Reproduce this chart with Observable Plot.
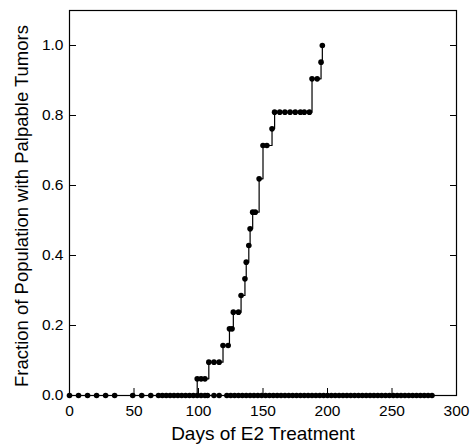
<!DOCTYPE html>
<html><head><meta charset="utf-8">
<script src="https://cdn.jsdelivr.net/npm/d3@7"></script>
<script src="https://cdn.jsdelivr.net/npm/@observablehq/plot@0.6"></script>
<style>body{margin:0;background:#fff}</style>
</head><body><div id="chart"></div>
<script>
const cohortSize = 21;
const tumorDays   = [99,102,105,108,112,116,119,123,124,126,127,131,133,136,137,139,140,142,144,147,150,153,157,159,163,167,171,175,179,182,186,188,192,195,196];
const tumorCounts = [1,1,1,2,2,2,3,3,4,4,5,5,6,7,8,9,10,11,11,13,15,15,16,17,17,17,17,17,17,17,17,19,19,20,21];
const zeroDays = [0,7,14,21,28,35,49,56,63,69,72,75,78,81,84,87,90,93,96,99,102,105,107,112,116,
  122,125,128,131,134,137,140,143,146,149,152,155,158,161,164,167,170,173,176,179,182,185,188,191,194,197,200,
  203,206,209,212,215,218,221,224,227,230,233,236,239,242,245,248,251,254,257,260,263,266,269,272,275,278,281];
const xTicks = [0,50,100,150,200,250,300];
const yTicks = [0,0.2,0.4,0.6,0.8,1.0];
const xLabel = "Days of E2 Treatment";
const yLabel = "Fraction of Population with Palpable Tumors";

const tumors = tumorDays.map((d,i)=>({day:d, frac:tumorCounts[i]/cohortSize}));
const zeros = zeroDays.map(d=>({day:d, frac:0}));
const tumorLine = zeros.filter(p=>p.day < tumorDays[0]).concat(tumors);

const chart = Plot.plot({
  width:470, height:446, marginLeft:69, marginRight:14, marginTop:10, marginBottom:51,
  style:{fontFamily:"'Liberation Sans', Arial, Helvetica, sans-serif", fontSize:"15px", color:"#000", background:"#fff"},
  x:{domain:[0,300]},
  y:{domain:[0,1.1]},
  marks:[
    Plot.frame({stroke:"#000", strokeWidth:1.2}),
    Plot.axisX({ticks:xTicks, tickSize:-7, tickFormat:()=>"", label:null}),
    Plot.axisX({ticks:xTicks, tickSize:0, tickPadding:9, label:null, fontSize:15.5}),
    Plot.axisY({ticks:yTicks, tickSize:-7, tickFormat:()=>"", label:null}),
    Plot.axisY({anchor:"right", ticks:yTicks, tickSize:-7, tickFormat:()=>"", label:null}),
    Plot.axisY({ticks:yTicks, tickSize:0, tickPadding:6, tickFormat:d3.format(".1f"), label:null, fontSize:15.5}),
    Plot.line(zeros, {x:"day", y:"frac", curve:"step-after", stroke:"#000", strokeWidth:1.2}),
    Plot.line(tumorLine, {x:"day", y:"frac", curve:"step-after", stroke:"#000", strokeWidth:1.2}),
    Plot.dot(zeros, {x:"day", y:"frac", r:2.8, fill:"#000"}),
    Plot.dot(tumors, {x:"day", y:"frac", r:2.8, fill:"#000"}),
    Plot.text([xLabel], {text:d=>d, frameAnchor:"bottom", dy:38, lineAnchor:"middle", textAnchor:"middle", fontSize:19, fill:"#000"}),
    Plot.text([yLabel], {text:d=>d, frameAnchor:"left", rotate:-90, dx:-47, dy:3, textAnchor:"middle", lineAnchor:"middle", fontSize:18.5, fill:"#000"})
  ]
});
document.getElementById("chart").append(chart);
</script>
</body></html>
